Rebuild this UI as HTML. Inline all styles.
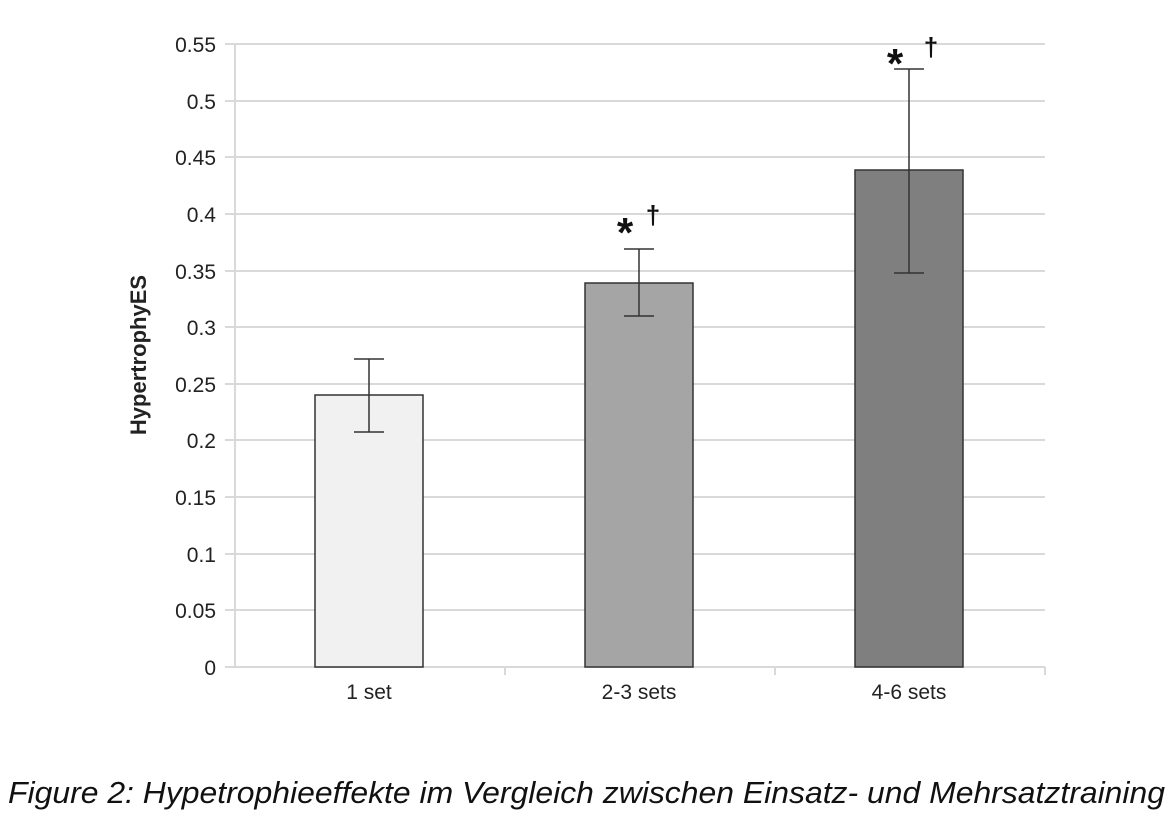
<!DOCTYPE html>
<html><head><style>body{margin:0;background:#fff}</style></head><body>
<svg width="1171" height="819" xmlns="http://www.w3.org/2000/svg" font-family="Liberation Sans, sans-serif">
<g stroke="#d9d9d9" stroke-width="2">
<line x1="225" y1="44" x2="1045" y2="44"/><line x1="225" y1="101" x2="1045" y2="101"/>
<line x1="225" y1="157" x2="1045" y2="157"/><line x1="225" y1="214" x2="1045" y2="214"/>
<line x1="225" y1="271" x2="1045" y2="271"/><line x1="225" y1="327" x2="1045" y2="327"/>
<line x1="225" y1="384" x2="1045" y2="384"/><line x1="225" y1="440" x2="1045" y2="440"/>
<line x1="225" y1="497" x2="1045" y2="497"/><line x1="225" y1="554" x2="1045" y2="554"/>
<line x1="225" y1="610" x2="1045" y2="610"/><line x1="225" y1="667" x2="1045" y2="667"/>
<line x1="235" y1="44" x2="235" y2="667"/>
<line x1="505" y1="667" x2="505" y2="675"/><line x1="775" y1="667" x2="775" y2="675"/><line x1="1045" y1="667" x2="1045" y2="675"/>
</g>
<g stroke="#333" stroke-width="1.5">
<rect x="315" y="395" width="108" height="272" fill="#f1f1f1"/>
<rect x="585" y="283" width="108" height="384" fill="#a5a5a5"/>
<rect x="855" y="170" width="108" height="497" fill="#7f7f7f"/>
<line x1="369" y1="359" x2="369" y2="432"/><line x1="354" y1="359" x2="384" y2="359"/><line x1="354" y1="432" x2="384" y2="432"/>
<line x1="639" y1="249" x2="639" y2="316"/><line x1="624" y1="249" x2="654" y2="249"/><line x1="624" y1="316" x2="654" y2="316"/>
<line x1="909" y1="69" x2="909" y2="273"/><line x1="894" y1="69" x2="924" y2="69"/><line x1="894" y1="273" x2="924" y2="273"/>
</g>
<g font-size="21" fill="#222" text-anchor="end">
<text x="216" y="52">0.55</text><text x="216" y="109">0.5</text><text x="216" y="165">0.45</text>
<text x="216" y="222">0.4</text><text x="216" y="279">0.35</text><text x="216" y="335">0.3</text>
<text x="216" y="392">0.25</text><text x="216" y="448">0.2</text><text x="216" y="505">0.15</text>
<text x="216" y="562">0.1</text><text x="216" y="618">0.05</text><text x="216" y="675">0</text>
</g>
<g font-size="21" fill="#222" text-anchor="middle">
<text x="369" y="699">1 set</text><text x="639" y="699">2-3 sets</text><text x="909" y="699">4-6 sets</text>
</g>
<text transform="translate(146,355) rotate(-90)" font-size="22" font-weight="bold" fill="#222" text-anchor="middle">HypertrophyES</text>
<g fill="#111" text-anchor="middle" font-weight="bold">
<text x="625" y="247" font-size="42">*</text><text x="653" y="224" font-size="26">†</text>
<text x="895" y="78" font-size="42">*</text><text x="931" y="56" font-size="26">†</text>
</g>
<text x="8" y="803" font-size="31" font-style="italic" fill="#111" textLength="1157" lengthAdjust="spacingAndGlyphs">Figure 2: Hypetrophieeffekte im Vergleich zwischen Einsatz- und Mehrsatztraining</text>
</svg>
</body></html>
